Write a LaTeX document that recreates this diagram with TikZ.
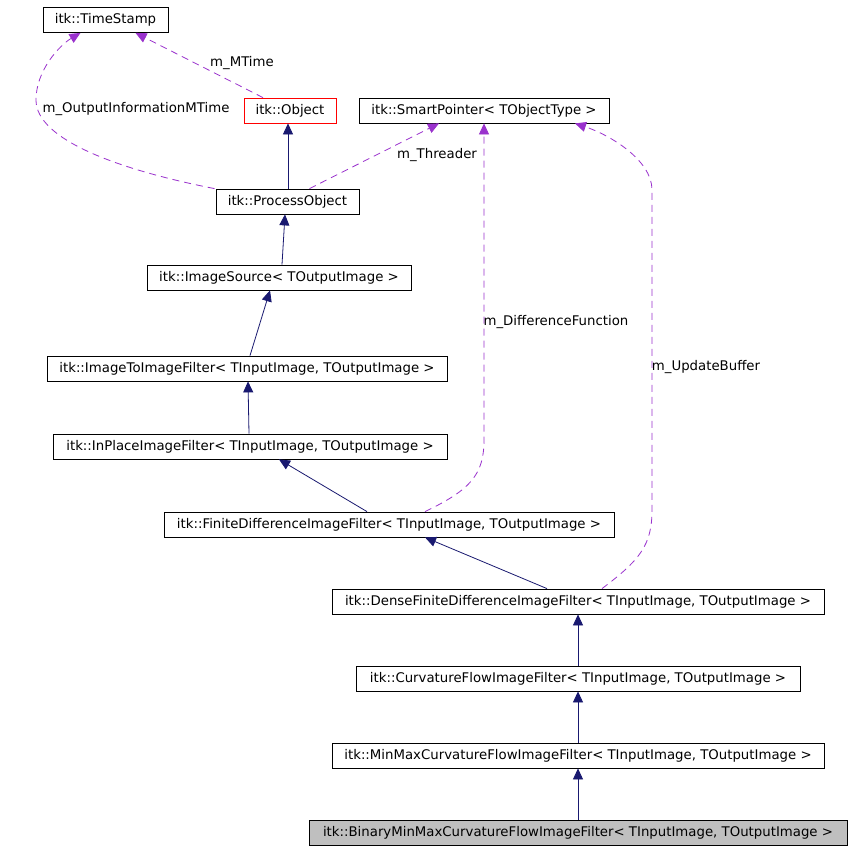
\documentclass[tikz,border=0pt]{standalone}
\usepackage{fontspec}
\setmainfont{DejaVu Sans}
\usetikzlibrary{arrows.meta}
\definecolor{inhblue}{HTML}{191970}
\definecolor{colpurple}{HTML}{9A32CD}
\begin{document}
\begin{tikzpicture}[x=1pt,y=-1pt,
  cls/.style={draw=black,fill=white,line width=0.8pt,minimum height=25pt,inner sep=0pt,font=\fontsize{13.3}{15}\selectfont},
  inh/.style={draw=inhblue,line width=0.8pt,-{Triangle[length=11pt,width=10pt]},fill=none},
  col/.style={draw=colpurple,line width=0.8pt,dash pattern=on 7pt off 5pt,-{Triangle[length=11pt,width=10pt,fill=colpurple]}},
  lbl/.style={font=\fontsize{13.3}{15}\selectfont,inner sep=0pt}]
\useasboundingbox (0,0) rectangle (852,851);
\fill[white] (0,0) rectangle (852,851);

\node[cls,minimum width=125pt] (ts) at (105.5,20) {itk::TimeStamp};
\node[cls,draw=red,minimum width=92pt] (obj) at (290,110.5) {itk::Object};
\node[cls,minimum width=250pt] (sp) at (484,110.5) {itk::SmartPointer< TObjectType >};
\node[cls,minimum width=143pt] (po) at (287.5,201.5) {itk::ProcessObject};
\node[cls,minimum width=264pt] (is) at (279,277.5) {itk::ImageSource< TOutputImage >};
\node[cls,minimum width=400pt] (i2i) at (247,368.5) {itk::ImageToImageFilter< TInputImage, TOutputImage >};
\node[cls,minimum width=394pt] (ip) at (250,446.5) {itk::InPlaceImageFilter< TInputImage, TOutputImage >};
\node[cls,minimum width=450pt] (fd) at (389,524.5) {itk::FiniteDifferenceImageFilter< TInputImage, TOutputImage >};
\node[cls,minimum width=492pt] (dfd) at (578,601.5) {itk::DenseFiniteDifferenceImageFilter< TInputImage, TOutputImage >};
\node[cls,minimum width=444pt] (cf) at (578,678.5) {itk::CurvatureFlowImageFilter< TInputImage, TOutputImage >};
\node[cls,minimum width=492pt] (mm) at (578,755.5) {itk::MinMaxCurvatureFlowImageFilter< TInputImage, TOutputImage >};
\node[cls,fill={rgb,255:red,191;green,191;blue,191},minimum width=538pt] (bin) at (578,832.5) {itk::BinaryMinMaxCurvatureFlowImageFilter< TInputImage, TOutputImage >};

% inheritance
\draw[inh] ([xshift=0.5pt]po.north) -- ([xshift=-2pt]obj.south);
\draw[inh] ([xshift=3pt]is.north) -- ([xshift=-2.5pt]po.south);
\draw[inh] ([xshift=3pt]i2i.north) -- ([xshift=-9pt]is.south);
\draw[inh] ([xshift=-1pt]ip.north) -- ([xshift=1pt]i2i.south);
\draw[inh] ([xshift=-22pt]fd.north) -- ([xshift=29pt]ip.south);
\draw[inh] ([xshift=-31pt]dfd.north) -- ([xshift=36pt]fd.south);
\draw[inh] (cf.north) -- (dfd.south);
\draw[inh] (mm.north) -- (cf.south);
\draw[inh] (bin.north) -- (mm.south);

% collaboration
\draw[col] ([xshift=-73pt]po.north) .. controls (120,170) and (36,140) .. (36,100)
   .. controls (36,70) and (60,45) .. ([xshift=-25pt]ts.south);
\draw[col] ([xshift=-27pt]obj.north) -- ([xshift=30pt]ts.south);
\draw[col] ([xshift=22pt]po.north) -- ([xshift=-45pt]sp.south);
\draw[col] ([xshift=36pt]fd.north) .. controls (470,490) and (484,475) .. (484,440) -- (sp.south);
\draw[col] ([xshift=24pt]dfd.north) .. controls (640,560) and (652,545) .. (652,510) -- (652,190)
   .. controls (652,160) and (610,135) .. ([xshift=91pt]sp.south);

\node[lbl] (l1) at (136,109) {m\_OutputInformationMTime};
\node[lbl] (l2) at (242,63) {m\_MTime};
\node[lbl] (l3) at (437,155) {m\_Threader};
\node[lbl] (l4) at (556,322) {m\_DifferenceFunction};
\node[lbl] (l5) at (706,367) {m\_UpdateBuffer};
\end{tikzpicture}
\end{document}
